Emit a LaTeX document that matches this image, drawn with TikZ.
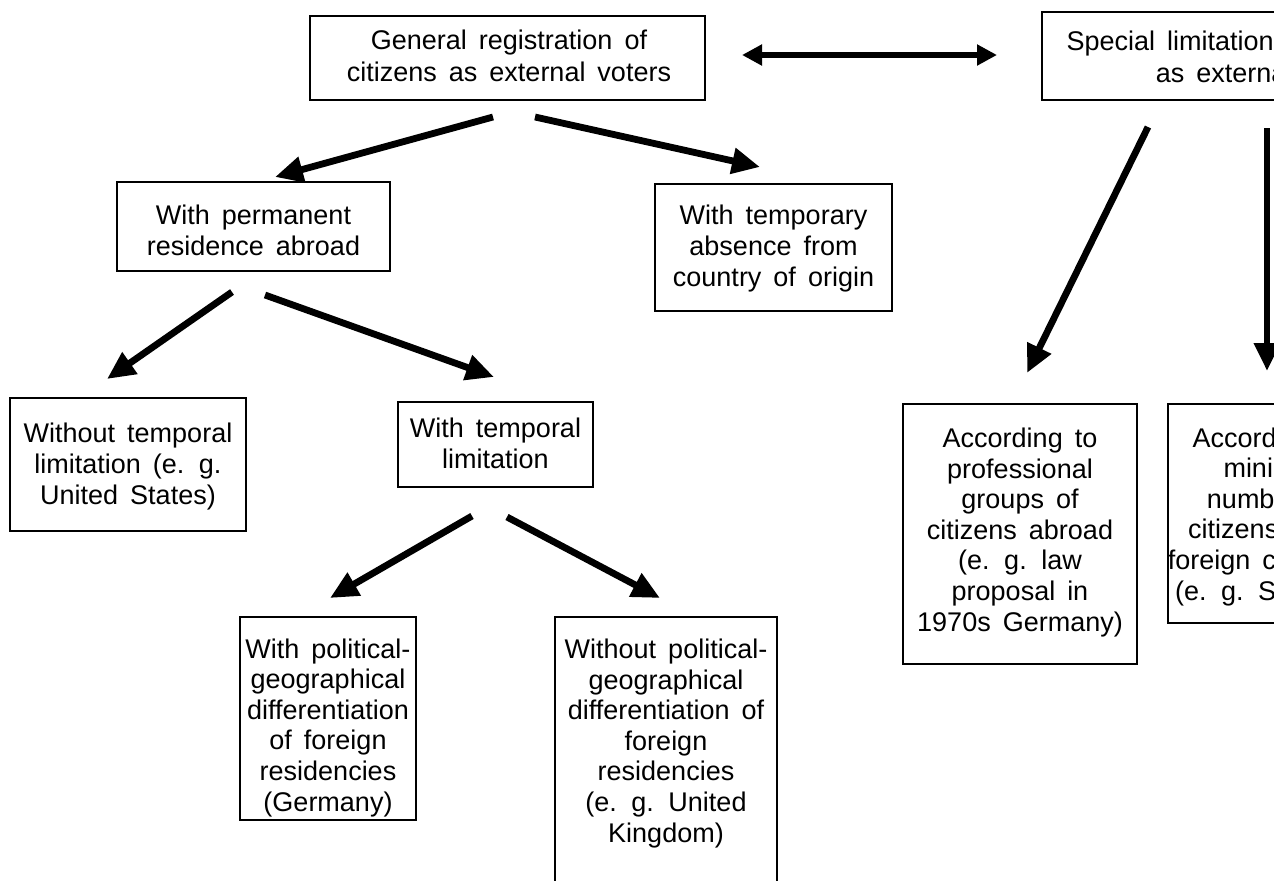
\documentclass[tikz,border=0pt]{standalone}
\usepackage{fontspec}
\setmainfont{Liberation Sans}[WordSpace={1.6}]
\usetikzlibrary{arrows.meta}
\begin{document}
\begin{tikzpicture}[x=0.5pt,y=-0.5pt,
  box/.style={draw=black, line width=1pt, inner sep=0pt, outer sep=0pt},
  txt/.style={anchor=base, align=center, inner sep=0pt, font=\fontsize{13.5pt}{15.3pt}\selectfont},
  toptxt/.style={txt, font=\fontsize{13.5pt}{16pt}\selectfont},
  arr/.style={line width=3.4pt, -{Triangle[length=14pt,width=12.5pt]}},
  darr/.style={line width=2.8pt, {Triangle[length=10pt,width=10pt]}-{Triangle[length=10pt,width=10pt]}}
]
\useasboundingbox (0,0) rectangle (1274,880);
\clip (0,0) rectangle (1274,880);

% boxes
\node[box, minimum width=197.5pt, minimum height=42pt] (A) at (507.5,58) {};
\node[box, minimum width=225pt, minimum height=44pt] (B) at (1267,56) {};
\node[box, minimum width=136.5pt, minimum height=44.5pt] (perm) at (253.5,226.5) {};
\node[box, minimum width=118.5pt, minimum height=63.5pt] (tabs) at (773.5,247.5) {};
\node[box, minimum width=118pt, minimum height=66.5pt] (wot) at (128,464.5) {};
\node[box, minimum width=97.5pt, minimum height=42.5pt] (wt) at (495.5,444.5) {};
\node[box, minimum width=88pt, minimum height=101.5pt] (wpol) at (328,718.5) {};
\node[box, minimum width=111pt, minimum height=141.5pt] (wopol) at (666,758.5) {};
\node[box, minimum width=117pt, minimum height=130pt] (prof) at (1020,534) {};
\node[box, minimum width=94pt, minimum height=109.5pt] (mini) at (1262,513.5) {};

% texts (anchored at the baseline of the last line)
\node[toptxt] (tA) at (509,81) {General registration of\\citizens as external voters};
\node[toptxt] (tB) at (1267,82) {Special limitations of registration\\as external voters};
\node[txt] (tperm) at (253.5,255) {With permanent\\residence abroad};
\node[txt] (ttabs) at (773.5,286) {With temporary\\absence from\\country of origin};
\node[txt] (twot) at (128,504) {Without temporal\\limitation (e. g.\\United States)};
\node[txt] (twt) at (495.5,468) {With temporal\\limitation};
\node[txt] (twpol) at (328,811) {With political-\\geographical\\differentiation\\of foreign\\residencies\\(Germany)};
\node[txt] (twopol) at (666,842) {Without political-\\geographical\\differentiation of\\foreign\\residencies\\(e. g. United\\Kingdom)};
\node[txt] (tprof) at (1020,631) {According to\\professional\\groups of\\citizens abroad\\(e. g. law\\proposal in\\1970s Germany)};
\node[txt] (tmini) at (1270,600) {According to\\minimal\\number of\\citizens living\\foreign countries\\(e. g. Sweden)};

% arrow end points
\coordinate (a1s) at (493,117);  \coordinate (a1e) at (275,177);
\coordinate (a2s) at (535,117);  \coordinate (a2e) at (760,167);
\coordinate (a3s) at (232,292);  \coordinate (a3e) at (107,379);
\coordinate (a4s) at (265,295);  \coordinate (a4e) at (494,377);
\coordinate (a5s) at (472,516);  \coordinate (a5e) at (330,598);
\coordinate (a6s) at (507,517);  \coordinate (a6e) at (660,598);
\coordinate (a7s) at (1148,127); \coordinate (a7e) at (1027,373);
\coordinate (a8s) at (1267,128); \coordinate (a8e) at (1267,371);
\coordinate (dl) at (742,55);    \coordinate (dr) at (997,55);

\draw[arr] (a1s) -- (a1e);
\draw[arr] (a2s) -- (a2e);
\draw[arr] (a3s) -- (a3e);
\draw[arr] (a4s) -- (a4e);
\draw[arr] (a5s) -- (a5e);
\draw[arr] (a6s) -- (a6e);
\draw[arr] (a7s) -- (a7e);
\draw[arr] (a8s) -- (a8e);
\draw[darr] (dl) -- (dr);
\end{tikzpicture}
\end{document}
